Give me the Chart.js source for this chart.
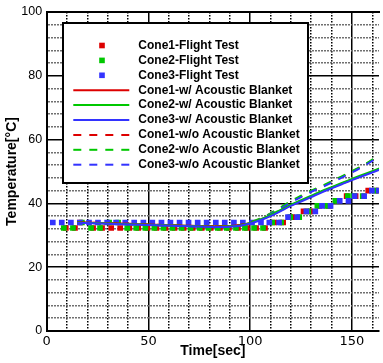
<!DOCTYPE html>
<html>
<head>
<meta charset="utf-8">
<script src="https://cdn.jsdelivr.net/npm/chart.js@4.4.1/dist/chart.umd.min.js"></script>
<style>
  html, body { margin: 0; padding: 0; background: #fff; }
</style>
</head>
<body>
<canvas id="temp-chart" width="383" height="363"></canvas>
<script>
// cone temperatures: flight test vs. simulation with / without acoustic blanket

const flightTime1 = [9.4, 13.9, 16.4, 22.8, 27.2, 31.7, 36.1, 40.6, 45.0, 49.5, 53.9, 58.4,
  62.8, 67.3, 71.7, 76.2, 80.6, 85.1, 89.5, 94.0, 98.4, 102.9, 107.3, 111.8, 116.2,
  120.7, 126.2, 129.6, 134.0, 138.5, 142.9, 147.4, 151.8, 158.0, 162.5];
const flightTemp1 = [32.3, 32.3, 34.0, 32.3, 32.3, 32.3, 32.3, 32.3, 32.3, 32.3, 32.3, 32.3,
  32.3, 32.3, 32.3, 32.3, 32.3, 32.3, 32.3, 32.3, 32.3, 32.3, 32.3, 34.0, 34.0,
  35.7, 37.5, 37.5, 39.2, 39.2, 40.8, 42.3, 42.3, 44.0, 44.0];

const flightTime2 = [8.4, 12.9, 17.3, 21.8, 26.2, 30.7, 35.1, 39.6, 44.0, 48.5, 52.9, 57.4,
  61.8, 66.3, 70.7, 75.2, 79.6, 84.1, 88.5, 93.0, 97.4, 101.9, 106.3, 110.8, 115.2,
  119.7, 124.1, 128.6, 133.0, 137.5, 141.9, 148.0, 150.8, 155.3, 161.5];
const flightTemp2 = [32.3, 32.3, 34.0, 32.3, 32.3, 34.0, 34.0, 32.3, 32.3, 32.3, 32.3, 32.3,
  32.3, 32.3, 32.3, 32.3, 32.3, 32.3, 32.3, 32.3, 32.3, 32.3, 32.3, 34.0, 34.0,
  35.7, 35.7, 37.5, 39.2, 39.2, 40.8, 42.3, 42.3, 42.3, 44.0];

const flightTime3 = [3.0, 7.4, 11.9, 16.3, 20.8, 25.2, 29.7, 34.1, 38.6, 43.0, 47.5, 51.9,
  56.4, 60.8, 65.3, 69.7, 74.2, 78.6, 83.1, 87.5, 92.0, 96.4, 100.9, 105.3, 109.4,
  114.2, 118.6, 123.1, 127.6, 132.0, 135.3, 139.5, 144.0, 148.3, 151.3, 156.0, 159.8, 163.2];
const flightTemp3 = [34.0, 34.0, 34.0, 34.0, 34.0, 34.0, 34.0, 34.0, 34.0, 34.0, 34.0, 34.0,
  34.0, 34.0, 34.0, 34.0, 34.0, 34.0, 34.0, 34.0, 34.0, 34.0, 34.0, 34.0, 34.0,
  34.0, 35.7, 35.7, 37.5, 37.5, 39.2, 39.2, 40.8, 40.8, 42.3, 42.3, 44.0, 44.0];

// simulation output, shared time base
const simTime = [15, 30, 50, 70, 85, 90, 95, 100, 105, 110, 115, 120, 125, 130, 135, 140, 145, 150, 155, 160, 165];
const withBlanket1 = [34.1, 33.8, 33.4, 33.0, 32.8, 32.9, 33.2, 33.9, 34.9, 36.2, 37.8, 39.4, 40.8, 42.2, 43.6, 44.9, 46.2, 47.5, 48.7, 49.9, 51.1];
const withBlanket2 = [34.0, 33.7, 33.3, 32.9, 32.7, 32.8, 33.1, 33.9, 35.0, 36.4, 38.0, 39.6, 41.0, 42.4, 43.8, 45.1, 46.4, 47.7, 48.9, 50.1, 51.3];
const withBlanket3 = [33.9, 33.6, 33.2, 32.8, 32.6, 32.7, 33.0, 33.7, 34.7, 36.0, 37.6, 39.2, 40.6, 42.0, 43.4, 44.7, 46.0, 47.3, 48.5, 49.7, 50.9];
const noBlanket1 = [34.1, 33.8, 33.4, 33.0, 32.8, 32.9, 33.2, 34.0, 35.2, 36.8, 38.6, 40.5, 42.2, 43.8, 45.2, 46.7, 48.3, 49.9, 51.6, 53.5, 55.4];
const noBlanket2 = [34.0, 33.7, 33.3, 32.9, 32.7, 32.8, 33.1, 34.1, 35.3, 36.9, 38.8, 40.7, 42.4, 44.0, 45.4, 46.9, 48.5, 50.1, 51.8, 53.7, 55.6];
const noBlanket3 = [33.9, 33.6, 33.2, 32.8, 32.6, 32.7, 33.0, 33.8, 35.0, 36.6, 38.4, 40.3, 42.0, 43.6, 45.0, 46.5, 48.1, 49.7, 51.4, 53.3, 55.2];

const RED = "#dd0000";
const GREEN = "#00c800";
const BLUE = "#3333ff";

const toPoints = (xs, ys) => xs.map((x, i) => ({ x: x, y: ys[i] }));

function flight(label, xs, ys, color, order) {
  return {
    label: label,
    data: toPoints(xs, ys),
    showLine: false,
    pointStyle: "rect",
    pointRadius: 4,
    pointBorderWidth: 0,
    backgroundColor: color,
    borderColor: color,
    order: order
  };
}

function sim(label, ys, color, dash, order) {
  return {
    label: label,
    data: toPoints(simTime, ys),
    showLine: true,
    pointRadius: 0,
    borderColor: color,
    backgroundColor: color,
    borderWidth: 2,
    borderDash: dash,
    cubicInterpolationMode: "monotone",
    order: order
  };
}

// boxed legend inside the plot, upper left
const legendBox = {
  id: "legendBox",
  afterDatasetsDraw(chart) {
    const ctx = chart.ctx;
    ctx.save();
    ctx.fillStyle = "#fff";
    ctx.fillRect(63, 23, 245, 160);
    ctx.strokeStyle = "#000";
    ctx.lineWidth = 2;
    ctx.strokeRect(63, 23, 245, 160);
    ctx.font = 'bold 12px "Liberation Sans", Arial, sans-serif';
    ctx.textBaseline = "middle";
    chart.data.datasets.forEach((ds, i) => {
      const y = 45.5 + i * 14.9;
      if (ds.showLine) {
        ctx.strokeStyle = ds.borderColor;
        ctx.lineWidth = 2;
        ctx.setLineDash(ds.borderDash || []);
        ctx.beginPath();
        ctx.moveTo(73.3, y);
        ctx.lineTo(129.3, y);
        ctx.stroke();
        ctx.setLineDash([]);
      } else {
        ctx.fillStyle = ds.backgroundColor;
        ctx.fillRect(99.2, y - 2.8, 5.6, 5.6);
      }
      ctx.fillStyle = "#000";
      ctx.fillText(ds.label, 138.3, y);
    });
    ctx.restore();
  }
};

const tickFont = { family: "'Liberation Sans', Arial, sans-serif", size: 12.5 };
const titleFont = { family: "'Liberation Sans', Arial, sans-serif", size: 14, weight: "bold" };

new Chart(document.getElementById("temp-chart"), {
  type: "scatter",
  data: {
    datasets: [
      flight("Cone1-Flight Test", flightTime1, flightTemp1, RED, 9),
      flight("Cone2-Flight Test", flightTime2, flightTemp2, GREEN, 8),
      flight("Cone3-Flight Test", flightTime3, flightTemp3, BLUE, 7),
      sim("Cone1-w/ Acoustic Blanket", withBlanket1, RED, [], 3),
      sim("Cone2-w/ Acoustic Blanket", withBlanket2, GREEN, [], 2),
      sim("Cone3-w/ Acoustic Blanket", withBlanket3, BLUE, [], 1),
      sim("Cone1-w/o Acoustic Blanket", noBlanket1, RED, [8, 8], 6),
      sim("Cone2-w/o Acoustic Blanket", noBlanket2, GREEN, [8, 8], 5),
      sim("Cone3-w/o Acoustic Blanket", noBlanket3, BLUE, [8, 8], 4)
    ]
  },
  options: {
    responsive: false,
    animation: false,
    events: [],
    layout: { padding: 0 },
    plugins: { legend: { display: false }, tooltip: { enabled: false } },
    scales: {
      x: {
        type: "linear",
        min: 0,
        max: 163.3,
        ticks: {
          stepSize: 10,
          includeBounds: false,
          autoSkip: false,
          maxRotation: 0,
          padding: 3,
          color: "#000",
          font: { family: "'DejaVu Sans', sans-serif", size: 13 },
          callback: v => (v % 50 === 0 ? v : "")
        },
        grid: {
          drawTicks: false,
          lineWidth: 1.5,
          color: "#000"
        },
        border: {
          color: "#000",
          width: 2,
          dash: c => (c.tick && c.tick.value % 50 ? [1.5, 1.5] : [])
        },
        title: {
          display: true,
          text: "Time[sec]",
          color: "#000",
          font: titleFont,
          padding: { top: 0, bottom: 3 }
        },
        afterFit: s => { s.height = 32; }
      },
      xTop: {
        type: "linear",
        position: "top",
        min: 0,
        max: 163.3,
        ticks: { display: false },
        grid: { display: false, drawTicks: false },
        border: { color: "#000", width: 2 },
        afterFit: s => { s.height = 12; }
      },
      y: {
        min: 0,
        max: 100,
        ticks: {
          stepSize: 4,
          autoSkip: false,
          padding: 4.5,
          color: "#000",
          font: tickFont,
          callback: v => (v % 20 === 0 ? v : "")
        },
        grid: {
          drawTicks: false,
          lineWidth: 1.5,
          color: c => (c.tick && c.tick.value % 20 ? "#707070" : "#000")
        },
        border: {
          color: "#000",
          width: 2,
          dash: c => (c.tick && c.tick.value % 20 ? [2, 1] : [])
        },
        title: {
          display: true,
          text: "Temperature[°C]",
          color: "#000",
          font: titleFont,
          padding: { top: 3.6, bottom: 0 }
        },
        afterFit: s => { s.width = 46.7; }
      }
    }
  },
  plugins: [legendBox]
});
</script>
</body>
</html>
